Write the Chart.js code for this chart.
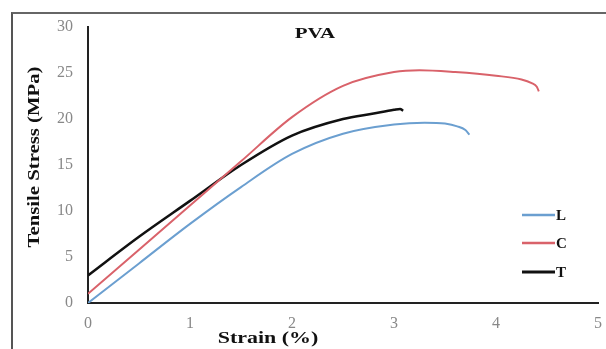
<!DOCTYPE html>
<html>
<head>
<meta charset="utf-8">
<script src="https://cdn.jsdelivr.net/npm/chart.js@4"></script>
<style>
  html, body { margin: 0; padding: 0; background: #fff; }
  #wrap { position: relative; width: 606px; height: 349px; }
  #frame { position: absolute; left: 11px; top: 12px; right: 0; bottom: -2px;
           border-left: 2px solid #555; border-top: 2px solid #666; }
  canvas { position: absolute; left: 0; top: 0; }
</style>
</head>
<body>
<div id="wrap">
  <div id="frame"></div>
  <canvas id="chart" width="606" height="349"></canvas>
</div>
<script>
// strain (%) / stress (MPa)
const strainL = [0, 0.5, 1, 1.5, 2, 2.5, 3, 3.3, 3.5, 3.62, 3.7, 3.74];
const stressL = [0, 4.3, 8.6, 12.6, 16.2, 18.4, 19.4, 19.6, 19.5, 19.2, 18.8, 18.3];

const strainC = [0, 0.5, 1, 1.5, 2, 2.5, 3, 3.25, 3.6, 4.0, 4.25, 4.35, 4.4, 4.42];
const stressC = [1, 5.8, 10.6, 15.4, 20.2, 23.6, 25.1, 25.3, 25.1, 24.7, 24.3, 23.9, 23.5, 23.0];

const strainT = [0, 0.5, 1, 1.5, 2, 2.5, 2.8, 3.0, 3.06, 3.09];
const stressT = [3, 7.2, 11.1, 15.0, 18.2, 20.0, 20.6, 21.0, 21.1, 20.9];

const seriesNames = ['L', 'C', 'T'];
const titleText = 'PVA';
const xTitle = 'Strain (%)';
const yTitle = 'Tensile Stress (MPa)';

function pts(xs, ys) { return xs.map((x, i) => ({ x: x, y: ys[i] })); }

const serif = '"Liberation Serif", "DejaVu Serif", serif';

// the source picture's text is stretched sideways, so draw it with a scale
function stretchedText(ctx, text, x, y, sx, rot) {
  ctx.save();
  ctx.translate(x, y);
  if (rot) ctx.rotate(rot);
  ctx.scale(sx, 1);
  ctx.fillText(text, 0, 0);
  ctx.restore();
}

// title, axis titles and legend
const decor = {
  id: 'decor',
  afterDraw(chart) {
    const ctx = chart.ctx;
    ctx.save();
    ctx.fillStyle = '#111';
    ctx.textAlign = 'center';
    ctx.textBaseline = 'middle';
    ctx.font = 'bold 14px ' + serif;
    stretchedText(ctx, titleText, 315, 34, 1.5);
    ctx.font = 'bold 16px ' + serif;
    stretchedText(ctx, xTitle, 268, 339, 1.37);
    ctx.font = 'bold 17px ' + serif;
    stretchedText(ctx, yTitle, 35, 157, 1.22, -Math.PI / 2);

    const legY = [215, 243, 272];
    chart.data.datasets.forEach((ds, i) => {
      ctx.strokeStyle = ds.borderColor;
      ctx.lineWidth = ds.borderWidth + 0.5;
      ctx.beginPath();
      ctx.moveTo(522, legY[i]);
      ctx.lineTo(555, legY[i]);
      ctx.stroke();
      ctx.fillStyle = '#111';
      ctx.font = 'bold 15px ' + serif;
      ctx.textAlign = 'left';
      ctx.fillText(ds.label, 556, legY[i] + 1);
    });
    ctx.restore();
  }
};

new Chart(document.getElementById('chart'), {
  type: 'scatter',
  data: {
    datasets: [
      { label: seriesNames[0], data: pts(strainL, stressL), borderColor: '#6b9fd0', borderWidth: 2 },
      { label: seriesNames[1], data: pts(strainC, stressC), borderColor: '#d9626a', borderWidth: 2 },
      { label: seriesNames[2], data: pts(strainT, stressT), borderColor: '#111111', borderWidth: 2.5 }
    ].map(d => Object.assign(d, { showLine: true, pointRadius: 0, tension: 0.4, cubicInterpolationMode: 'monotone' }))
  },
  options: {
    responsive: false,
    animation: false,
    layout: { padding: { left: 0, right: 8, top: 27, bottom: 0 } },
    plugins: { legend: { display: false }, tooltip: { enabled: false } },
    scales: {
      x: {
        type: 'linear', min: 0, max: 5,
        grid: { display: false, drawTicks: false },
        border: { display: true, color: '#222', width: 2 },
        ticks: { stepSize: 1, color: '#888', padding: 11, font: { family: serif, size: 16 } },
        afterFit(scale) { scale.height = 46; scale.paddingRight = 0; }
      },
      y: {
        min: 0, max: 30,
        grid: { display: false, drawTicks: false },
        border: { display: true, color: '#222', width: 2 },
        ticks: { stepSize: 5, color: '#888', padding: 15, font: { family: serif, size: 16 } },
        afterFit(scale) { scale.width = 88; }
      }
    }
  },
  plugins: [decor]
});
</script>
</body>
</html>
